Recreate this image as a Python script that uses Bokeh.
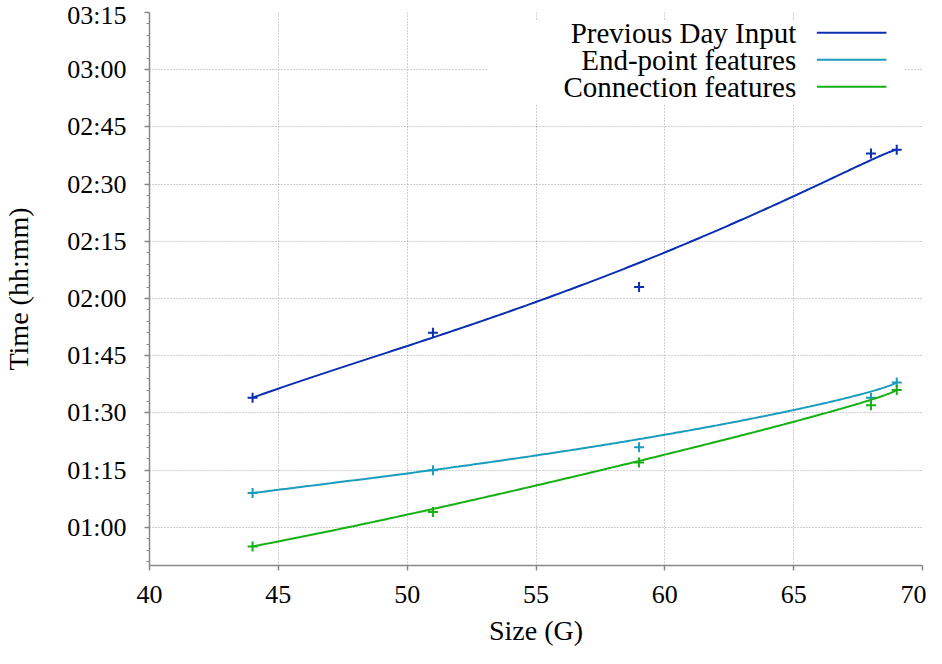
import numpy as np
from math import comb
from bokeh.plotting import figure
from bokeh.models import Range1d, FixedTicker, Label, BoxAnnotation
from bokeh.embed import file_html
from bokeh.resources import INLINE

# ---- data ----
sizes = [44, 51, 59, 68, 69]
prev_day = ["01:34", "01:51", "02:03", "02:38", "02:39"]
end_point = ["01:09", "01:15", "01:21", "01:34", "01:38"]
connection = ["00:55", "01:04", "01:17", "01:32", "01:36"]
series_names = ["Previous Day Input", "End-point features", "Connection features"]
series_colors = ["#0a2fb0", "#1a9cbc", "#14b014"]
x_ticks = [40, 45, 50, 55, 60, 65, 70]
y_tick_labels = ["01:00", "01:15", "01:30", "01:45", "02:00", "02:15", "02:30", "02:45", "03:00", "03:15"]
x_label = "Size (G)"
y_label = "Time (hh:mm)"

FONT = "Liberation Serif"


def to_min(s):
    h, m = s.split(":")
    return int(h) * 60 + int(m)


def bezier(xs, ys, n=200):
    xs = np.asarray(xs, float)
    ys = np.asarray(ys, float)
    k = len(xs) - 1
    t = np.linspace(0, 1, n)
    B = np.array([comb(k, i) * t**i * (1 - t) ** (k - i) for i in range(k + 1)])
    return B.T @ xs, B.T @ ys


y_ticks = [to_min(s) for s in y_tick_labels]

p = figure(width=926, height=648, output_backend="svg", toolbar_location=None,
           x_range=Range1d(40, 70), y_range=Range1d(50, 195),
           min_border_left=149, min_border_top=12, min_border_right=4, min_border_bottom=83)
p.outline_line_color = None
p.background_fill_color = "white"
p.border_fill_color = "white"

# grid
for g in (p.xgrid, p.ygrid):
    g.grid_line_color = "#a0a0a0"
    g.grid_line_dash = "1 2"
    g.grid_line_width = 1
p.xaxis.ticker = FixedTicker(ticks=x_ticks, minor_ticks=[])
p.yaxis.ticker = FixedTicker(ticks=y_ticks, minor_ticks=list(range(51, 195, 3)))
p.yaxis.major_label_overrides = {t: l for t, l in zip(y_ticks, y_tick_labels)}

for ax in (p.xaxis, p.yaxis):
    ax.axis_line_color = "#888888"
    ax.axis_line_width = 1.5
    ax.major_tick_line_color = "#888888"
    ax.major_tick_line_width = 1.5
    ax.minor_tick_line_color = "#888888"
    ax.minor_tick_line_width = 1.2
    ax.major_tick_in = 0
    ax.major_tick_out = 5
    ax.minor_tick_in = 0
    ax.minor_tick_out = 3
    ax.major_label_text_font = FONT
    ax.major_label_text_font_size = "26px"
    ax.major_label_text_color = "black"
    ax.axis_label_text_font = FONT
    ax.axis_label_text_font_size = "28px"
    ax.axis_label_text_font_style = "normal"
    ax.axis_label_text_color = "black"

p.xaxis.axis_label = x_label
p.yaxis.axis_label = y_label
p.xaxis.major_label_standoff = 15
p.yaxis.major_label_standoff = 18
p.xaxis.axis_label_standoff = 9
p.yaxis.axis_label_standoff = 30

# legend background (covers grid)
p.add_layout(BoxAnnotation(left=53.1, right=69.3, bottom=170.8, top=192.9,
                           fill_color="white", fill_alpha=1.0, line_color=None,
                           level="underlay"))

all_series = [prev_day, end_point, connection]
legend_y = [189.7, 182.6, 175.5]
for vals, name, col, ly in zip(all_series, series_names, series_colors, legend_y):
    ym = [to_min(v) for v in vals]
    bx, by = bezier(sizes, ym)
    p.line(bx, by, line_color=col, line_width=2)
    p.scatter(sizes, ym, marker="cross", size=10, line_color=col, line_width=2)
    p.add_layout(Label(x=65.1, y=ly, text=name, text_align="right", text_baseline="middle",
                       text_font=FONT, text_font_size="29px", text_color="black"))
    p.segment(x0=[65.9], y0=[ly], x1=[68.6], y1=[ly], line_color=col, line_width=2)

open("out.html", "w").write(file_html(p, INLINE))
